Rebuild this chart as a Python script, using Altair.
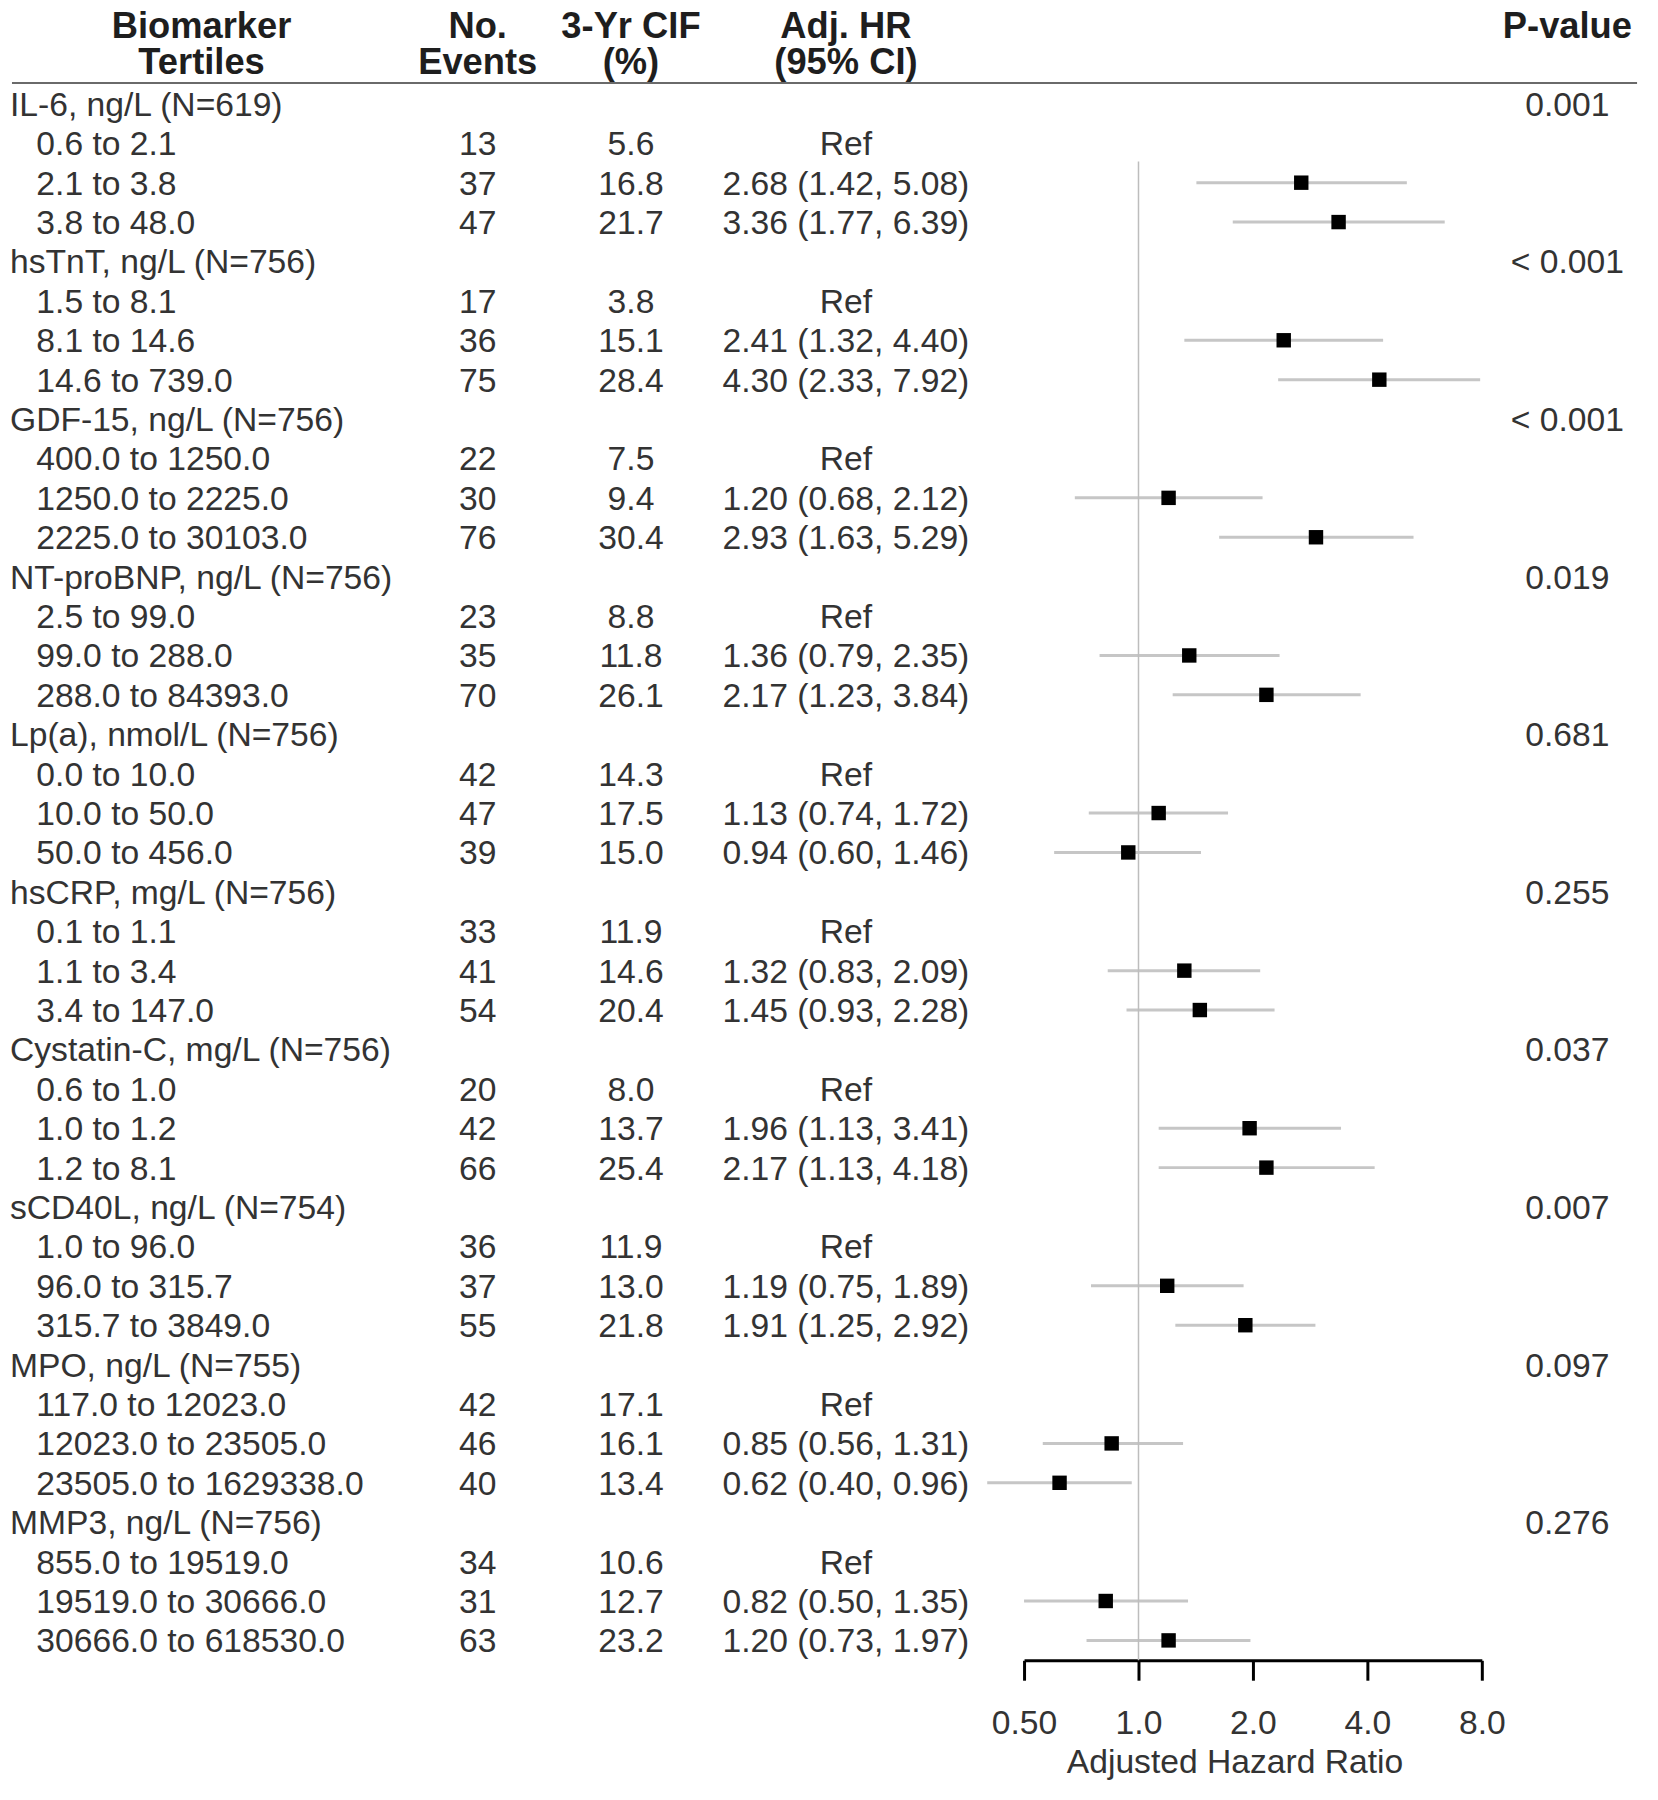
import altair as alt
import pandas as pd

# ---------------- data ----------------
groups = [
    "IL-6, ng/L (N=619)",
    "hsTnT, ng/L (N=756)",
    "GDF-15, ng/L (N=756)",
    "NT-proBNP, ng/L (N=756)",
    "Lp(a), nmol/L (N=756)",
    "hsCRP, mg/L (N=756)",
    "Cystatin-C, mg/L (N=756)",
    "sCD40L, ng/L (N=754)",
    "MPO, ng/L (N=755)",
    "MMP3, ng/L (N=756)",
]
pvalues = ["0.001", "< 0.001", "< 0.001", "0.019", "0.681",
           "0.255", "0.037", "0.007", "0.097", "0.276"]

tertiles = [
    "0.6 to 2.1", "2.1 to 3.8", "3.8 to 48.0",
    "1.5 to 8.1", "8.1 to 14.6", "14.6 to 739.0",
    "400.0 to 1250.0", "1250.0 to 2225.0", "2225.0 to 30103.0",
    "2.5 to 99.0", "99.0 to 288.0", "288.0 to 84393.0",
    "0.0 to 10.0", "10.0 to 50.0", "50.0 to 456.0",
    "0.1 to 1.1", "1.1 to 3.4", "3.4 to 147.0",
    "0.6 to 1.0", "1.0 to 1.2", "1.2 to 8.1",
    "1.0 to 96.0", "96.0 to 315.7", "315.7 to 3849.0",
    "117.0 to 12023.0", "12023.0 to 23505.0", "23505.0 to 1629338.0",
    "855.0 to 19519.0", "19519.0 to 30666.0", "30666.0 to 618530.0",
]
events = [13, 37, 47, 17, 36, 75, 22, 30, 76, 23, 35, 70, 42, 47, 39,
          33, 41, 54, 20, 42, 66, 36, 37, 55, 42, 46, 40, 34, 31, 63]
cif = ["5.6", "16.8", "21.7", "3.8", "15.1", "28.4", "7.5", "9.4", "30.4",
       "8.8", "11.8", "26.1", "14.3", "17.5", "15.0", "11.9", "14.6", "20.4",
       "8.0", "13.7", "25.4", "11.9", "13.0", "21.8", "17.1", "16.1", "13.4",
       "10.6", "12.7", "23.2"]
hr = [None, 2.68, 3.36, None, 2.41, 4.30, None, 1.20, 2.93, None, 1.36, 2.17,
      None, 1.13, 0.94, None, 1.32, 1.45, None, 1.96, 2.17, None, 1.19, 1.91,
      None, 0.85, 0.62, None, 0.82, 1.20]
lo = [None, 1.42, 1.77, None, 1.32, 2.33, None, 0.68, 1.63, None, 0.79, 1.23,
      None, 0.74, 0.60, None, 0.83, 0.93, None, 1.13, 1.13, None, 0.75, 1.25,
      None, 0.56, 0.40, None, 0.50, 0.73]
hi = [None, 5.08, 6.39, None, 4.40, 7.92, None, 2.12, 5.29, None, 2.35, 3.84,
      None, 1.72, 1.46, None, 2.09, 2.28, None, 3.41, 4.18, None, 1.89, 2.92,
      None, 1.31, 0.96, None, 1.35, 1.97]

head_top = ["Biomarker", "No.", "3-Yr CIF", "Adj. HR", "P-value"]
head_bottom = ["Tertiles", "Events", "(%)", "(95% CI)", ""]
axis_ticks = [0.5, 1, 2, 4, 8]

# ---------------- build table ----------------
group_rows, sub_rows = [], []
r = 0
for g, name in enumerate(groups):
    group_rows.append(dict(row=r, label=name, p=pvalues[g]))
    r += 1
    for k in range(3):
        i = g * 3 + k
        h = hr[i]
        txt = "Ref" if h is None else f"{h:.2f} ({lo[i]:.2f}, {hi[i]:.2f})"
        sub_rows.append(dict(row=r, label=tertiles[i], events=str(events[i]),
                             cif=cif[i], hrtxt=txt, hr=h, lo=lo[i], hi=hi[i]))
        r += 1
n_rows = r
df_g = pd.DataFrame(group_rows)
df_s = pd.DataFrame(sub_rows)
df_f = df_s[df_s["hr"].notna()].copy()
df_ref = pd.DataFrame({"hr": [1.0]})

# ---------------- styling ----------------
FONT = "Liberation Sans, Arial, Helvetica, sans-serif"
TXT = "#333333"
HEAD = "#1e1e1e"
FS = 33.8
HFS = 36.5
W, H = 1642, 1626
PAD_TOP = 30

yscale = alt.Scale(domain=[0, n_rows - 1], range=[62, 1606], nice=False, zero=False)
xscale = alt.Scale(type="log", base=2, domain=[0.5, 8], range=[1021, 1481], nice=False)

xaxis = alt.Axis(
    values=axis_ticks,
    labelExpr="datum.value < 1 ? format(datum.value, '.2f') : format(datum.value, '.1f')",
    grid=False, domainColor="black", domainWidth=3, tickColor="black",
    tickWidth=3, tickSize=20, labelFontSize=FS, labelFont=FONT, labelColor=TXT,
    labelBaseline="middle", labelPadding=44, labelFlush=False, labelOverlap=False,
    title="Adjusted Hazard Ratio", titleFontSize=FS, titleFont=FONT,
    titleFontWeight="normal", titleColor=TXT, titleX=1232.5, titleY=103,
    titleBaseline="middle", titleAlign="center",
)

Y = alt.Y("row:Q", scale=yscale, axis=None)

col_x = {"label_g": 2, "label_s": 28.5, "events": 472, "cif": 626, "hr": 842, "p": 1567}
head_x = [194.5, 472, 626, 842, 1567]
head_y = [-16.8, 18.8]

layers = []

# header
for i in range(len(head_top)):
    for txt, yy in ((head_top[i], head_y[0]), (head_bottom[i], head_y[1])):
        if not txt:
            continue
        layers.append(
            alt.Chart(pd.DataFrame({"t": [txt]})).mark_text(
                align="center", baseline="middle", font=FONT, fontSize=HFS,
                fontWeight="bold", color=HEAD, dy=2,
            ).encode(x=alt.value(head_x[i]), y=alt.value(yy), text="t:N")
        )

layers.append(
    alt.Chart(pd.DataFrame({"a": [0]})).mark_rule(color="#6a6a6a", strokeWidth=2).encode(
        x=alt.value(4), x2=alt.value(1637), y=alt.value(41)
    )
)

# text columns
def txt_layer(df, field, x, align):
    return alt.Chart(df).mark_text(
        align=align, baseline="middle", font=FONT, fontSize=FS, color=TXT, dy=2
    ).encode(x=alt.value(x), y=Y, text=f"{field}:N")

layers.append(txt_layer(df_g, "label", col_x["label_g"], "left"))
layers.append(txt_layer(df_g, "p", col_x["p"], "center"))
layers.append(txt_layer(df_s, "label", col_x["label_s"], "left"))
layers.append(txt_layer(df_s, "events", col_x["events"], "center"))
layers.append(txt_layer(df_s, "cif", col_x["cif"], "center"))
layers.append(txt_layer(df_s, "hrtxt", col_x["hr"], "center"))

# forest
ci = alt.Chart(df_f).mark_rule(color="#c6c6c6", strokeWidth=3).encode(
    x=alt.X("lo:Q", scale=xscale, axis=xaxis), x2="hi:Q", y=Y
)
ref = alt.Chart(df_ref).mark_rule(color="#bdbdbd", strokeWidth=1.5).encode(
    x=alt.X("hr:Q", scale=xscale, axis=xaxis), y=alt.value(120), y2=alt.value(H)
)
pts = alt.Chart(df_f).mark_square(size=210, color="black", opacity=1).encode(
    x=alt.X("hr:Q", scale=xscale, axis=xaxis), y=Y
)
layers += [ci, ref, pts]

chart = alt.layer(*layers).properties(
    width=W, height=H,
    padding={"left": 0, "top": PAD_TOP, "right": 8, "bottom": 130},
    autosize=alt.AutoSizeParams(type="none"),
    background="white",
).configure_view(stroke=None)

chart.save("out.html", embed_options={"renderer": "svg", "actions": False})
